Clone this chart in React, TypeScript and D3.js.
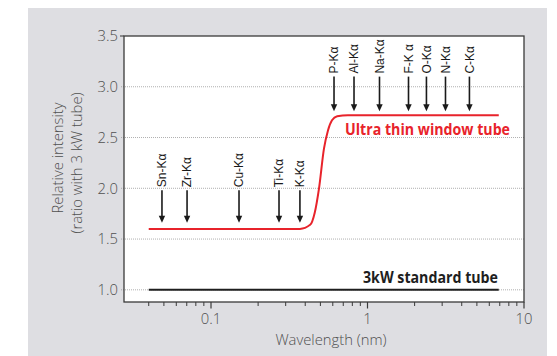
import React from "react";
import * as d3 from "d3";

const yTicks = [1.0, 1.5, 2.0, 2.5, 3.0, 3.5];
const xMajorTicks = [0.1, 1, 10];
const xMinorTicks = [0.04, 0.05, 0.06, 0.07, 0.08, 0.09, 0.2, 0.3, 0.4, 0.5, 0.6, 0.7, 0.8, 0.9, 2, 3, 4, 5, 6, 7, 8, 9];

// Ultra thin window tube curve (wavelength nm, relative intensity)
const utwWavelength = [0.04, 0.37, 0.43, 0.46, 0.49, 0.527, 0.559, 0.593, 0.64, 0.75, 6.9];
const utwIntensity = [1.6, 1.6, 1.64, 1.76, 2.0, 2.39, 2.57, 2.67, 2.71, 2.72, 2.72];

// 3kW standard tube
const stdWavelength = [0.04, 6.9];
const stdIntensity = [1.0, 1.0];

// Element lines
const lowLabels = ["Sn-Kα", "Zr-Kα", "Cu-Kα", "Ti-Kα", "K-Kα"];
const lowWavelengths = [0.0486, 0.0703, 0.151, 0.272, 0.37];
const highLabels = ["P-Kα", "Al-Kα", "Na-Kα", "F-K α", "O-Kα", "N-Kα", "C-Kα"];
const highWavelengths = [0.611, 0.82, 1.193, 1.828, 2.38, 3.15, 4.48];

const W = 557;
const H = 356;
const plot = { left: 124, right: 524, top: 36, bottom: 302 };

export default function App() {
  const x = d3.scaleLog().domain([0.0278, 10]).range([plot.left, plot.right]);
  const y = d3.scaleLinear().domain([0.88, 3.5]).range([plot.bottom, plot.top]);

  const line = d3
    .line<[number, number]>()
    .x((d) => x(d[0]))
    .y((d) => y(d[1]))
    .curve(d3.curveMonotoneX);

  const utw = utwWavelength.map((w, i) => [w, utwIntensity[i]] as [number, number]);
  const std = stdWavelength.map((w, i) => [w, stdIntensity[i]] as [number, number]);

  const tickFont = "'Open Sans', sans-serif";
  const labelFont = "'Liberation Sans', Arial, sans-serif";
  const textColor = "#505050";

  const arrow = (xv: number, tailV: number, tipV: number, key: string) => {
    const px = x(xv);
    const y0 = y(tailV);
    const y1 = y(tipV);
    return (
      <g key={key}>
        <line x1={px} x2={px} y1={y0} y2={y1 - 6} stroke="#1a1a1a" strokeWidth={1.6} />
        <path d={`M${px - 3.2},${y1 - 7} L${px + 3.2},${y1 - 7} L${px},${y1} Z`} fill="#1a1a1a" />
      </g>
    );
  };

  const elemLabel = (xv: number, startV: number, text: string, key: string) => {
    const px = x(xv);
    const py = y(startV);
    return (
      <text
        key={key}
        transform={`translate(${px},${py}) rotate(-90)`}
        dy="0.36em"
        textAnchor="start"
        fontFamily={labelFont}
        fontSize={12}
        fill="#1a1a1a"
      >
        {text}
      </text>
    );
  };

  return (
    <svg
      width={W}
      height={H}
      style={{ position: "absolute", left: 0, top: 0, display: "block", background: "#ffffff" }}
    >
      <rect x={28} y={8} width={519} height={H - 8} fill="#dedee2" />
      <rect
        x={plot.left}
        y={plot.top}
        width={plot.right - plot.left}
        height={plot.bottom - plot.top}
        fill="#ffffff"
      />
      {/* gridlines */}
      {yTicks
        .filter((t) => t < 3.5)
        .map((t) => (
          <line
            key={"g" + t}
            x1={plot.left - 3}
            x2={plot.right}
            y1={y(t)}
            y2={y(t)}
            stroke="#9a9a9a"
            strokeWidth={0.8}
            strokeDasharray="1,1"
          />
        ))}
      <line x1={plot.left - 4} x2={plot.left} y1={y(3.5)} y2={y(3.5)} stroke="#333" strokeWidth={1} />
      {/* frame */}
      <rect
        x={plot.left}
        y={plot.top}
        width={plot.right - plot.left}
        height={plot.bottom - plot.top}
        fill="none"
        stroke="#3a3a3a"
        strokeWidth={1.3}
      />
      {/* y tick labels */}
      {yTicks.map((t) => (
        <text
          key={"yl" + t}
          x={118}
          y={y(t)}
          dy="0.36em"
          textAnchor="end"
          fontFamily={tickFont}
          fontWeight={300}
          fontSize={14.8}
          fill={textColor}
        >
          {t.toFixed(1)}
        </text>
      ))}
      {/* x ticks */}
      {xMinorTicks.map((t) => (
        <line key={"xm" + t} x1={x(t)} x2={x(t)} y1={plot.bottom} y2={plot.bottom + 4} stroke="#3a3a3a" strokeWidth={1} />
      ))}
      {xMajorTicks.map((t) => (
        <line key={"xM" + t} x1={x(t)} x2={x(t)} y1={plot.bottom} y2={plot.bottom + 6.5} stroke="#3a3a3a" strokeWidth={1.2} />
      ))}
      {xMajorTicks.map((t) => (
        <text
          key={"xl" + t}
          x={x(t)}
          y={324}
          textAnchor="middle"
          fontFamily={tickFont}
          fontWeight={300}
          fontSize={14.8}
          fill={textColor}
        >
          {String(t)}
        </text>
      ))}
      <text x={331} y={345} textAnchor="middle" fontFamily={tickFont} fontWeight={300} fontSize={14.8} fill={textColor}>
        Wavelength (nm)
      </text>
      <text
        transform="translate(58,158) rotate(-90)"
        dy="0.36em"
        textAnchor="middle"
        fontFamily={tickFont}
        fontWeight={300}
        fontSize={14.8}
        fill={textColor}
      >
        Relative intensity
      </text>
      <text
        transform="translate(77,163) rotate(-90)"
        dy="0.36em"
        textAnchor="middle"
        fontFamily={tickFont}
        fontWeight={300}
        fontSize={14.8}
        fill={textColor}
      >
        (ratio with 3 kW tube)
      </text>

      {/* series */}
      <path d={line(std) || ""} fill="none" stroke="#1e1e1e" strokeWidth={2} />
      <path d={line(utw) || ""} fill="none" stroke="#e8232b" strokeWidth={2} />

      {/* arrows and labels */}
      {lowWavelengths.map((w, i) => arrow(w, 1.98, 1.66, "la" + i))}
      {lowWavelengths.map((w, i) => elemLabel(w, 2.01, lowLabels[i], "ll" + i))}
      {highWavelengths.map((w, i) => arrow(w, 3.1, 2.76, "ha" + i))}
      {highWavelengths.map((w, i) => elemLabel(w, 3.13, highLabels[i], "hl" + i))}

      {/* series labels */}
      <text
        x={345}
        y={135}
        fontFamily={tickFont}
        fontWeight="bold"
        fontSize={15.5}
        fill="#e8232b"
        textLength={165}
        lengthAdjust="spacingAndGlyphs"
      >
        Ultra thin window tube
      </text>
      <text
        x={363}
        y={283}
        fontFamily={tickFont}
        fontWeight="bold"
        fontSize={15.5}
        fill="#1e1e1e"
        textLength={135}
        lengthAdjust="spacingAndGlyphs"
      >
        3kW standard tube
      </text>
    </svg>
  );
}
